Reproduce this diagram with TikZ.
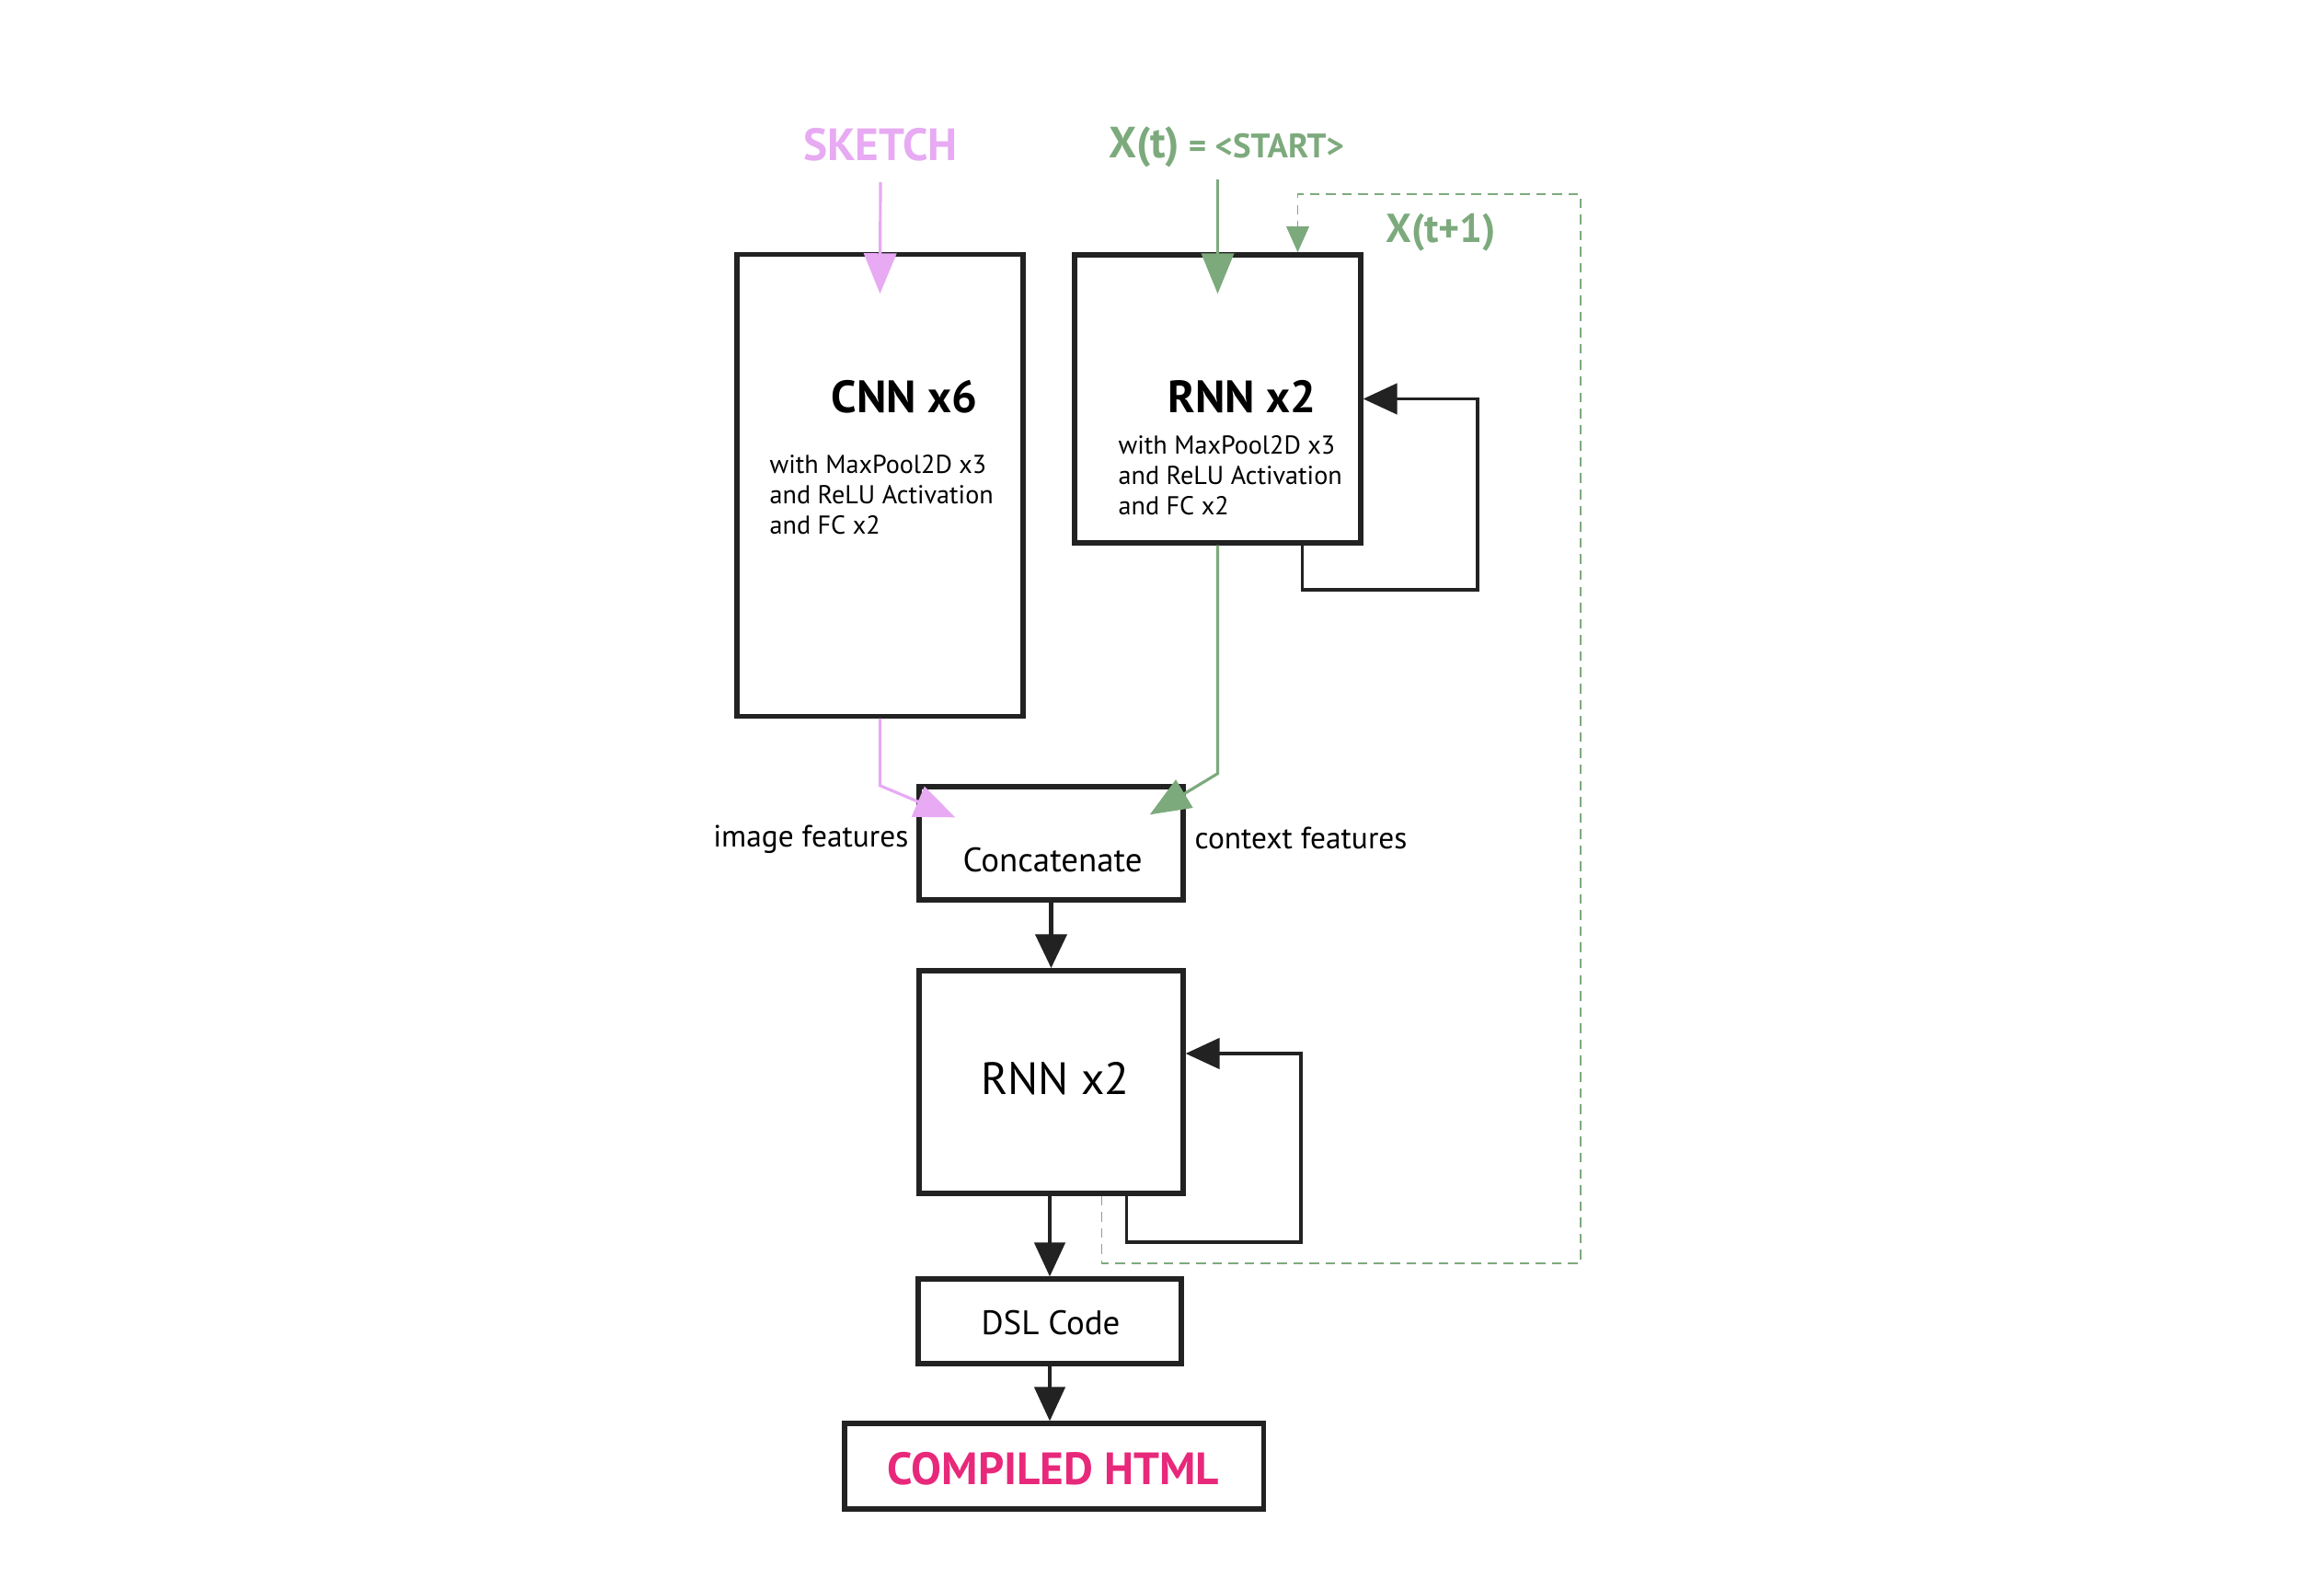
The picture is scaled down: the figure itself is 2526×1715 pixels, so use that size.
\documentclass[tikz,border=0pt]{standalone}
\usepackage{fontspec}
\setmainfont{PT Sans}
\usetikzlibrary{arrows.meta,calc}
\definecolor{pinkc}{RGB}{231,170,243}
\definecolor{greenc}{RGB}{125,170,125}
\definecolor{htmlc}{RGB}{232,40,122}
\definecolor{ink}{RGB}{34,34,34}
\begin{document}
\begin{tikzpicture}[x=0.01cm,y=-0.01cm,
  box/.style={draw=ink,line width=1.5pt,inner sep=0pt,fill=white},
  lbl/.style={inner sep=0pt,text=black},
  blk/.style={draw=ink,line width=0.9pt,-{Triangle[length=10.5pt,width=9.5pt]}},
  thickblk/.style={draw=ink,line width=1.7pt,-{Triangle[length=10.5pt,width=9.5pt]}},
  pinkarr/.style={draw=pinkc,line width=0.9pt,-{Triangle[length=12.5pt,width=10pt]}},
  greenarr/.style={draw=greenc,line width=0.9pt,-{Triangle[length=12.5pt,width=10pt]}},
  dasharr/.style={draw=greenc,line width=0.5pt,dash pattern=on 3pt off 2pt,-{Triangle[length=8pt,width=7pt]}},
  sub/.style={lbl,align=left,anchor=north west,font=\fontsize{8}{9.4}\selectfont}]
\useasboundingbox (0,0) rectangle (2526,1715);
\fill[white] (0,0) rectangle (2526,1715);

% boxes
\node[box,minimum width=3.11cm,minimum height=5.01cm] (cnn) at (956.5,527.5) {};
\node[box,minimum width=3.11cm,minimum height=3.13cm] (rnn1) at (1323.5,433.5) {};
\node[box,minimum width=2.87cm,minimum height=1.23cm] (concat) at (1142.5,916.5) {};
\node[box,minimum width=2.87cm,minimum height=2.42cm] (rnn2) at (1142.5,1176) {};
\node[box,minimum width=2.86cm,minimum height=0.92cm] (dsl) at (1141,1436) {};
\node[box,minimum width=4.55cm,minimum height=0.93cm] (html) at (1145.5,1593.5) {};

% top labels
\node[lbl,anchor=base,text=pinkc,font=\bfseries\fontsize{14}{16}\selectfont] (sketch) at (957,174) {SKETCH};
\node[lbl,anchor=base west,text=greenc] (xt) at (1205,171) {{\bfseries\fontsize{13.5}{16}\selectfont X(t)} {\bfseries\fontsize{10.5}{12}\selectfont = <START>}};
\node[lbl,anchor=base,text=greenc,font=\bfseries\fontsize{12.5}{16}\selectfont] (xt1) at (1566,263) {X(t+1)};

% box texts
\node[lbl,anchor=base,font=\bfseries\fontsize{14}{17}\selectfont] (cnnt) at (983,448) {CNN x6};
\node[sub] (cnns) at (836,494) {with MaxPool2D x3\\and ReLU Activation\\and FC x2};
\node[lbl,anchor=base,font=\bfseries\fontsize{14}{17}\selectfont] (rnn1t) at (1350,448) {RNN x2};
\node[sub] (rnn1s) at (1215,473) {with MaxPool2D x3\\and ReLU Activation\\and FC x2};
\node[lbl,anchor=base,font=\fontsize{10.5}{13}\selectfont] (concatt) at (1144,947) {Concatenate};
\node[lbl,anchor=base east,font=\fontsize{9.5}{12}\selectfont] (imgf) at (988,920) {image features};
\node[lbl,anchor=base west,font=\fontsize{9.5}{12}\selectfont] (ctxf) at (1298,922) {context features};
\node[lbl,anchor=base,font=\fontsize{14}{17}\selectfont] (rnn2t) at (1147,1189) {RNN x2};
\node[lbl,anchor=base,font=\fontsize{10.5}{13}\selectfont] (dslt) at (1142,1450) {DSL Code};
\node[lbl,anchor=base,text=htmlc,font=\bfseries\fontsize{14}{16}\selectfont] (htmlt) at (1145,1613) {COMPILED HTML};

% coordinates
\coordinate (loop1) at (1606,641);
\coordinate (loop2) at (1414,1350);
\coordinate (d1) at (1718,1373);
\coordinate (d2) at (1718,211);

% input arrows
\draw[pinkarr] ($(sketch.base)+(0,24)$) -- ($(cnn.north)+(0,45)$);
\draw[greenarr] ($(rnn1.north)+(0,-79)$) -- ($(rnn1.north)+(0,45)$);

% feedback dashed
\draw[dasharr] ($(rnn2.south)+(55,0)$) |- (d1) -- (d2) -| ($(rnn1.north)+(87,0)$);

% recurrent loops
\draw[blk] ($(rnn1.south)+(92,0)$) |- (loop1) |- (rnn1.east);
\draw[blk] ($(rnn2.south)+(82,0)$) |- (loop2) |- ($(rnn2.east)+(0,-31)$);

% features
\draw[pinkarr] (cnn.south) -- ++(0,73) -- ($(concat.north west)+(42,36)$);
\draw[greenarr] (rnn1.south) -- ++(0,248) -- ($(concat.north east)+(-39,33)$);

% main chain
\draw[thickblk] (concat.south) -- (rnn2.north);
\draw[blk] (rnn2.south -| dsl.north) -- (dsl.north);
\draw[blk] (dsl.south) -- (dsl.south |- html.north);
\end{tikzpicture}
\end{document}
